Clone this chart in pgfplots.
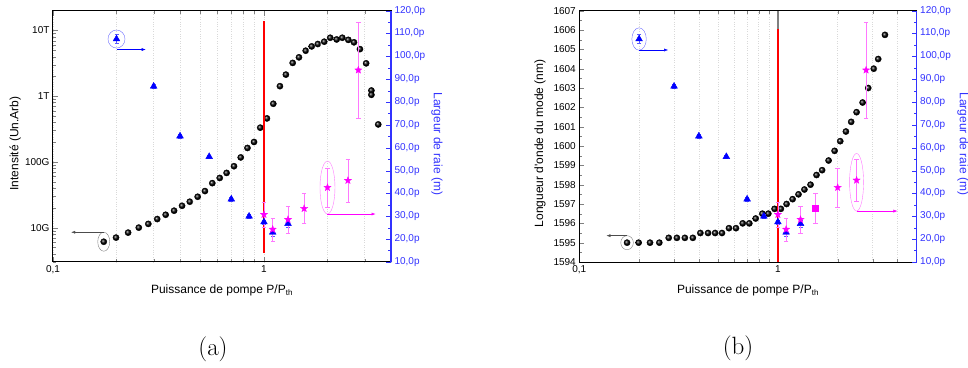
\documentclass[border=0pt]{standalone}
\usepackage{pgfplots}
\pgfplotsset{compat=1.18}
\usepackage{fontspec}
\newfontfamily\arial{Liberation Sans}
\usetikzlibrary{arrows.meta}
\definecolor{axblue}{RGB}{50,50,255}
\definecolor{mag}{RGB}{255,0,255}
\definecolor{errpink}{RGB}{255,120,255}
\definecolor{ellblue}{RGB}{110,110,255}
\definecolor{errblue}{RGB}{90,90,255}

\pgfdeclareplotmark{fstar}{%
  \pgfpathmoveto{\pgfqpointpolar{90}{\pgfplotmarksize}}%
  \pgfpathlineto{\pgfqpointpolar{126}{0.42\pgfplotmarksize}}%
  \pgfpathlineto{\pgfqpointpolar{162}{\pgfplotmarksize}}%
  \pgfpathlineto{\pgfqpointpolar{198}{0.42\pgfplotmarksize}}%
  \pgfpathlineto{\pgfqpointpolar{234}{\pgfplotmarksize}}%
  \pgfpathlineto{\pgfqpointpolar{270}{0.42\pgfplotmarksize}}%
  \pgfpathlineto{\pgfqpointpolar{306}{\pgfplotmarksize}}%
  \pgfpathlineto{\pgfqpointpolar{342}{0.42\pgfplotmarksize}}%
  \pgfpathlineto{\pgfqpointpolar{18}{\pgfplotmarksize}}%
  \pgfpathlineto{\pgfqpointpolar{54}{0.42\pgfplotmarksize}}%
  \pgfpathclose\pgfusepathqfillstroke}

\pgfplotstableread{
x y
0.174 6.1e9
0.199 7.05e9
0.227 8.4e9
0.255 1.0e10
0.283 1.14e10
0.312 1.35e10
0.342 1.57e10
0.375 1.81e10
0.409 2.15e10
0.445 2.48e10
0.485 2.95e10
0.525 3.6e10
0.569 4.75e10
0.617 5.7e10
0.665 6.8e10
0.721 8.6e10
0.776 1.17e11
0.835 1.63e11
0.897 2.01e11
0.96 3.32e11
1.033 4.59e11
1.107 7.67e11
1.19 1.42e12
1.27 2.13e12
1.368 3.21e12
1.465 3.9e12
1.577 4.92e12
1.683 5.72e12
1.80 6.22e12
1.93 6.75e12
2.06 7.75e12
2.21 7.3e12
2.35 7.75e12
2.51 7.2e12
2.67 6.6e12
2.85 5.2e12
3.05 3.16e12
3.23 1.22e12
3.23 1.05e12
3.48 3.72e11
}\intensite

\pgfplotstableread{
x y
0.174 1595.0
0.199 1595.0
0.227 1595.0
0.253 1595.0
0.282 1595.25
0.31 1595.25
0.34 1595.25
0.373 1595.25
0.407 1595.5
0.445 1595.5
0.483 1595.5
0.523 1595.5
0.567 1595.75
0.615 1595.75
0.665 1596.0
0.718 1596.0
0.773 1596.25
0.835 1596.5
0.895 1596.5
0.962 1596.75
1.035 1596.75
1.106 1597.0
1.186 1597.25
1.27 1597.5
1.36 1597.75
1.46 1598.0
1.565 1598.5
1.67 1598.75
1.80 1599.25
1.93 1599.75
2.06 1600.25
2.20 1600.75
2.34 1601.25
2.49 1601.75
2.67 1602.25
2.85 1603.0
3.04 1604.0
3.2 1604.5
3.46 1605.75
}\longueur

\pgfplotstableread{
x y e
0.2 107.6 2.0
0.3 86.9 0.8
0.4 65.1 0.8
0.55 56.1 0.8
0.70 37.5 0.8
0.85 30.0 0.8
1.0 27.5 1.0
1.10 23.0 1.5
1.30 26.8 1.5
}\largeurA

\pgfplotstableread{
x y e
1.0 30.8 5.5
1.10 24.3 5.0
1.30 28.6 6.0
1.55 33.4 6.5
2.0 42.6 8.5
2.5 45.7 9.4
2.8 94.0 21.0
}\largeurB

\pgfplotstableread{
x y e
1.0 30.8 5.5
1.10 24.3 5.0
1.30 28.6 6.0
2.0 42.6 8.5
2.49 45.8 9.4
2.78 94.0 21.0
}\largeurC

\pgfplotstableread{
x y e
1.55 33.5 6.5
}\largeurSq

\begin{document}
\begin{tikzpicture}
\useasboundingbox (0,0) rectangle (968pt,367pt);

% ---------------- (a) left ----------------
\begin{axis}[at={(53pt,105pt)}, anchor=south west,
  scale only axis, width=338pt, height=251.3pt,
  xmode=log, xmin=0.1, xmax=4,
  xtick={0.1,1}, xticklabels={{0,1},1},
  minor xtick={0.2,0.3,0.4,0.5,0.6,0.7,0.8,0.9,2,3,4},
  tick align=inside, major tick length=5pt, minor tick length=3pt,
  tick label style={font=\arial\fontsize{10}{12}\selectfont},
  label style={font=\arial\fontsize{12}{14}\selectfont},
  clip=false, axis line style={line width=1pt}, ytick pos=left,
  xminorgrids=true, xmajorgrids=true,
  minor x grid style={gray!30, dotted}, major x grid style={gray!30, dotted},
  xlabel={Puissance de pompe P/P\textsubscript{th}},
  xlabel style={at={(axis description cs:0.5,-0.1245)}, anchor=base},
  ylabel style={at={(axis description cs:-0.112,0.472)}, anchor=center},
  ymode=log, ymin=3e9, ymax=2e13,
  ytick={1e10,1e11,1e12,1e13}, yticklabels={10G,100G,1T,10T},
  minor ytick={3e9,4e9,5e9,6e9,7e9,8e9,9e9,2e10,3e10,4e10,5e10,6e10,7e10,8e10,9e10,2e11,3e11,4e11,5e11,6e11,7e11,8e11,9e11,2e12,3e12,4e12,5e12,6e12,7e12,8e12,9e12},
  ylabel={Intensité (Un.Arb)}]
\addplot[only marks, mark=ball, mark size=3.1pt, mark options={ball color=black}] table[x=x,y=y] {\intensite};
\draw[gray] (axis cs:0.174,6.1e9) ellipse [x radius=6pt, y radius=9.5pt];
\draw[gray!60!black, -{Latex[length=4pt,width=3pt]}] ([yshift=9.5pt]axis cs:0.174,6.1e9) -- ([yshift=9.5pt]axis cs:0.122,6.1e9);
\end{axis}

% ---------------- (a) right ----------------
\begin{axis}[at={(53pt,105pt)}, anchor=south west,
  scale only axis, width=338pt, height=251.3pt,
  xmode=log, xmin=0.1, xmax=4,
  tick align=inside, major tick length=5pt, minor tick length=3pt,
  tick label style={font=\arial\fontsize{10}{12}\selectfont},
  label style={font=\arial\fontsize{12}{14}\selectfont},
  clip=false,
  axis x line=none, axis y line*=right,
  ymin=10, ymax=120,
  ytick={10,20,30,40,50,60,70,80,90,100,110,120},
  yticklabels={{10,0p},{20,0p},{30,0p},{40,0p},{50,0p},{60,0p},{70,0p},{80,0p},{90,0p},{100,0p},{110,0p},{120,0p}},
  minor ytick={15,25,35,45,55,65,75,85,95,105,115},
  y axis line style={axblue, line width=1.2pt},
  y tick style={axblue}, yticklabel style={axblue},
  ylabel={Largeur de raie (m)},
  ylabel style={at={(axis description cs:1.136,0.47)}, anchor=center, rotate=180, color=axblue}]
\addplot[red, line width=1.6pt] coordinates {(1,14) (1,115.7)};
\addplot[only marks, mark=triangle*, mark size=3.9pt, color=blue,
    error bars/y dir=both, error bars/y explicit,
    error bars/error bar style={errblue, line width=0.5pt},
    error bars/error mark options={rotate=90, errblue, mark size=2pt}]
  table[x=x,y=y,y error=e] {\largeurA};
\addplot[only marks, mark=fstar, mark size=3.9pt, color=mag,
    mark options={fill=mag, draw=mag, line width=0.2pt},
    error bars/y dir=both, error bars/y explicit,
    error bars/error bar style={errpink, line width=0.6pt},
    error bars/error mark options={rotate=90, errpink, mark size=2.2pt}]
  table[x=x,y=y,y error=e] {\largeurB};
\draw[ellblue] (axis cs:0.2,107.6) ellipse [x radius=8.5pt, y radius=9pt];
\draw[blue, -{Latex[length=4pt,width=3pt]}] (axis cs:0.2,103) -- (axis cs:0.275,103);
\draw[errpink] (axis cs:2,42.6) ellipse [x radius=7.5pt, y radius=26.5pt];
\draw[mag, -{Latex[length=4pt,width=3pt]}] ([yshift=-26.5pt]axis cs:2,42.6) -- ([yshift=-26.5pt]axis cs:3.38,42.6);
\end{axis}

% ---------------- (b) left ----------------
\begin{axis}[at={(579.3pt,105pt)}, anchor=south west,
  scale only axis, width=337.4pt, height=251.3pt,
  xmode=log, xmin=0.1, xmax=5,
  xtick={0.1,1}, xticklabels={{0,1},1},
  minor xtick={0.2,0.3,0.4,0.5,0.6,0.7,0.8,0.9,2,3,4},
  tick align=inside, major tick length=5pt, minor tick length=3pt,
  tick label style={font=\arial\fontsize{10}{12}\selectfont},
  label style={font=\arial\fontsize{12}{14}\selectfont},
  clip=false, axis line style={line width=1pt}, ytick pos=left,
  xminorgrids=true, xmajorgrids=true,
  minor x grid style={gray!30, dotted}, major x grid style={gray!30, dotted},
  xlabel={Puissance de pompe P/P\textsubscript{th}},
  xlabel style={at={(axis description cs:0.5,-0.1245)}, anchor=base},
  ylabel style={at={(axis description cs:-0.1165,0.472)}, anchor=center},
  ymin=1594, ymax=1607,
  ytick={1594,1595,1596,1597,1598,1599,1600,1601,1602,1603,1604,1605,1606,1607},
  yticklabels={1594,1595,1596,1597,1598,1599,1600,1601,1602,1603,1604,1605,1606,1607},
  minor ytick={1594.5,1595.5,1596.5,1597.5,1598.5,1599.5,1600.5,1601.5,1602.5,1603.5,1604.5,1605.5,1606.5},
  ylabel={Longueur d'onde du mode (nm)}]
\addplot[only marks, mark=ball, mark size=3.1pt, mark options={ball color=black}] table[x=x,y=y] {\longueur};
\draw[gray] (axis cs:0.174,1595.0) ellipse [x radius=6.3pt, y radius=7pt];
\draw[gray!60!black, -{Latex[length=4pt,width=3pt]}] ([yshift=7pt]axis cs:0.174,1595.0) -- ([yshift=7pt]axis cs:0.137,1595.0);
\end{axis}

% ---------------- (b) right ----------------
\begin{axis}[at={(579.3pt,105pt)}, anchor=south west,
  scale only axis, width=337.4pt, height=251.3pt,
  xmode=log, xmin=0.1, xmax=5,
  tick align=inside, major tick length=5pt, minor tick length=3pt,
  tick label style={font=\arial\fontsize{10}{12}\selectfont},
  label style={font=\arial\fontsize{12}{14}\selectfont},
  clip=false,
  axis x line=none, axis y line*=right,
  ymin=10, ymax=120,
  ytick={10,20,30,40,50,60,70,80,90,100,110,120},
  yticklabels={{10,0p},{20,0p},{30,0p},{40,0p},{50,0p},{60,0p},{70,0p},{80,0p},{90,0p},{100,0p},{110,0p},{120,0p}},
  minor ytick={15,25,35,45,55,65,75,85,95,105,115},
  y axis line style={axblue, line width=1.2pt},
  y tick style={axblue}, yticklabel style={axblue},
  ylabel={Largeur de raie (m)},
  ylabel style={at={(axis description cs:1.137,0.47)}, anchor=center, rotate=180, color=axblue}]
\addplot[gray, line width=1.2pt] coordinates {(1,112) (1,120)};
\addplot[red, line width=1.6pt] coordinates {(1,10) (1,112)};
\addplot[only marks, mark=triangle*, mark size=3.9pt, color=blue,
    error bars/y dir=both, error bars/y explicit,
    error bars/error bar style={errblue, line width=0.5pt},
    error bars/error mark options={rotate=90, errblue, mark size=2pt}]
  table[x=x,y=y,y error=e] {\largeurA};
\addplot[only marks, mark=fstar, mark size=3.9pt, color=mag,
    mark options={fill=mag, draw=mag, line width=0.2pt},
    error bars/y dir=both, error bars/y explicit,
    error bars/error bar style={errpink, line width=0.6pt},
    error bars/error mark options={rotate=90, errpink, mark size=2.2pt}]
  table[x=x,y=y,y error=e] {\largeurC};
\addplot[only marks, mark=square*, mark size=3pt, color=mag,
    error bars/y dir=both, error bars/y explicit,
    error bars/error bar style={errpink, line width=0.6pt},
    error bars/error mark options={rotate=90, errpink, mark size=2.2pt}]
  table[x=x,y=y,y error=e] {\largeurSq};
\draw[ellblue] (axis cs:0.2,107.6) ellipse [x radius=7.2pt, y radius=11.2pt];
\draw[blue, -{Latex[length=4pt,width=3pt]}] (axis cs:0.2,102.8) -- (axis cs:0.28,102.8);
\draw[errpink] (axis cs:2.49,44.9) ellipse [x radius=7pt, y radius=28.8pt];
\draw[mag, -{Latex[length=4pt,width=3pt]}] ([yshift=-28.8pt]axis cs:2.49,44.9) -- ([yshift=-28.8pt]axis cs:4.0,44.9);
\end{axis}

\node[font=\fontsize{25}{30}\selectfont] at (213pt,18pt) {(a)};
\node[font=\fontsize{25}{30}\selectfont] at (738pt,19pt) {(b)};
\end{tikzpicture}
\end{document}
